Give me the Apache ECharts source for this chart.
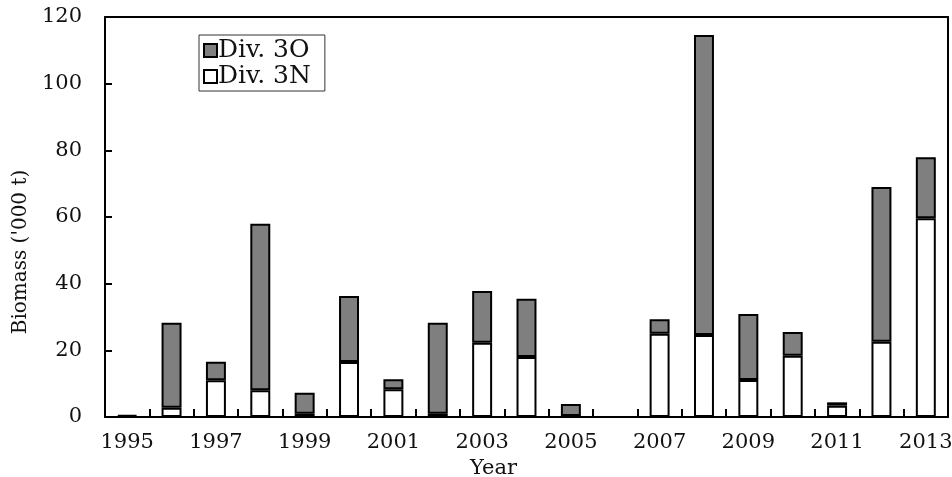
<!DOCTYPE html>
<html>
<head>
<meta charset="utf-8">
<script src="https://cdn.jsdelivr.net/npm/echarts@6/dist/echarts.min.js"></script>
<style>
  html, body { margin: 0; padding: 0; background: #fff; }
  #container { width: 952px; height: 477px; }
</style>
</head>
<body>
<div id="container"></div>
<script>
var years = ['1995', '1996', '1997', '1998', '1999', '2000', '2001', '2002', '2003', '2004',
  '2005', '2006', '2007', '2008', '2009', '2010', '2011', '2012', '2013'];
// biomass ('000 t)
var div3N = [0.2, 2.8, 11, 8, 1, 16.5, 8.3, 1, 22.3, 18, 0.3, 0, 25, 24.6, 11.1, 18.4, 3.4, 22.6, 59.6];
var div3O = [0.4, 25.5, 5.6, 50, 6.3, 19.8, 3, 27.3, 15.5, 17.5, 3.6, 0, 4.3, 90, 19.8, 7.1, 1, 46.4, 18.3];
var yTicks = [0, 20, 40, 60, 80, 100, 120];

var font = 'DejaVu Serif';
var dom = document.getElementById('container');
var myChart = echarts.init(dom, null, { renderer: 'canvas' });

var axisLineStyle = { color: '#000', width: 2 };

var option = {
  animation: false,
  backgroundColor: '#fff',
  textStyle: { fontFamily: font, color: '#111' },
  grid: {
    left: 105, top: 17, right: 4, bottom: 60,
    outerBoundsMode: 'none',
    containLabel: false
  },
  legend: {
    orient: 'vertical',
    left: 199, top: 35,
    padding: [3, 14, 2, 4],
    itemGap: 1,
    itemWidth: 13, itemHeight: 13,
    borderColor: '#333', borderWidth: 1,
    icon: 'rect',
    textStyle: { fontFamily: font, fontSize: 25, color: '#111', padding: [0, 0, 0, -4] },
    data: ['Div. 3O', 'Div. 3N']
  },
  xAxis: [
    {
      type: 'category',
      data: years,
      name: 'Year',
      nameLocation: 'middle',
      nameGap: 38,
      nameTextStyle: { fontFamily: font, fontSize: 21, color: '#111', padding: [0, 66, 0, 0] },
      axisLine: { onZero: false, lineStyle: axisLineStyle },
      axisTick: { show: true, inside: true, length: 8, interval: 0, lineStyle: axisLineStyle },
      axisLabel: { interval: 1, fontFamily: font, fontSize: 21, color: '#111', margin: 15 },
      z: 5
    },
    {
      type: 'category',
      data: years,
      position: 'top',
      axisLine: { onZero: false, lineStyle: axisLineStyle },
      axisTick: { show: false },
      axisLabel: { show: false }
    }
  ],
  yAxis: [
    {
      type: 'value',
      min: yTicks[0],
      max: yTicks[yTicks.length - 1],
      interval: 20,
      name: "Biomass ('000 t)",
      nameLocation: 'middle',
      nameGap: 64,
      nameTextStyle: { fontFamily: font, fontSize: 20, color: '#111', padding: [0, 70, 0, 0] },
      splitLine: { show: false },
      axisLine: { show: true, onZero: false, lineStyle: axisLineStyle },
      axisTick: { show: true, inside: true, length: 7, lineStyle: axisLineStyle },
      axisLabel: { fontFamily: font, fontSize: 21, color: '#111', margin: 23 }
    },
    {
      type: 'value',
      min: yTicks[0],
      max: yTicks[yTicks.length - 1],
      interval: 20,
      position: 'right',
      splitLine: { show: false },
      axisLine: { show: true, onZero: false, lineStyle: axisLineStyle },
      axisTick: { show: false },
      axisLabel: { show: false }
    }
  ],
  series: [
    {
      name: 'Div. 3N',
      type: 'bar',
      stack: 'total',
      barWidth: '45%',
      data: div3N,
      itemStyle: { color: '#fff', borderColor: '#000', borderWidth: 2 }
    },
    {
      name: 'Div. 3O',
      type: 'bar',
      stack: 'total',
      barWidth: '45%',
      data: div3O,
      itemStyle: { color: '#7f7f7f', borderColor: '#000', borderWidth: 2 }
    }
  ]
};

myChart.setOption(option);
</script>
</body>
</html>
